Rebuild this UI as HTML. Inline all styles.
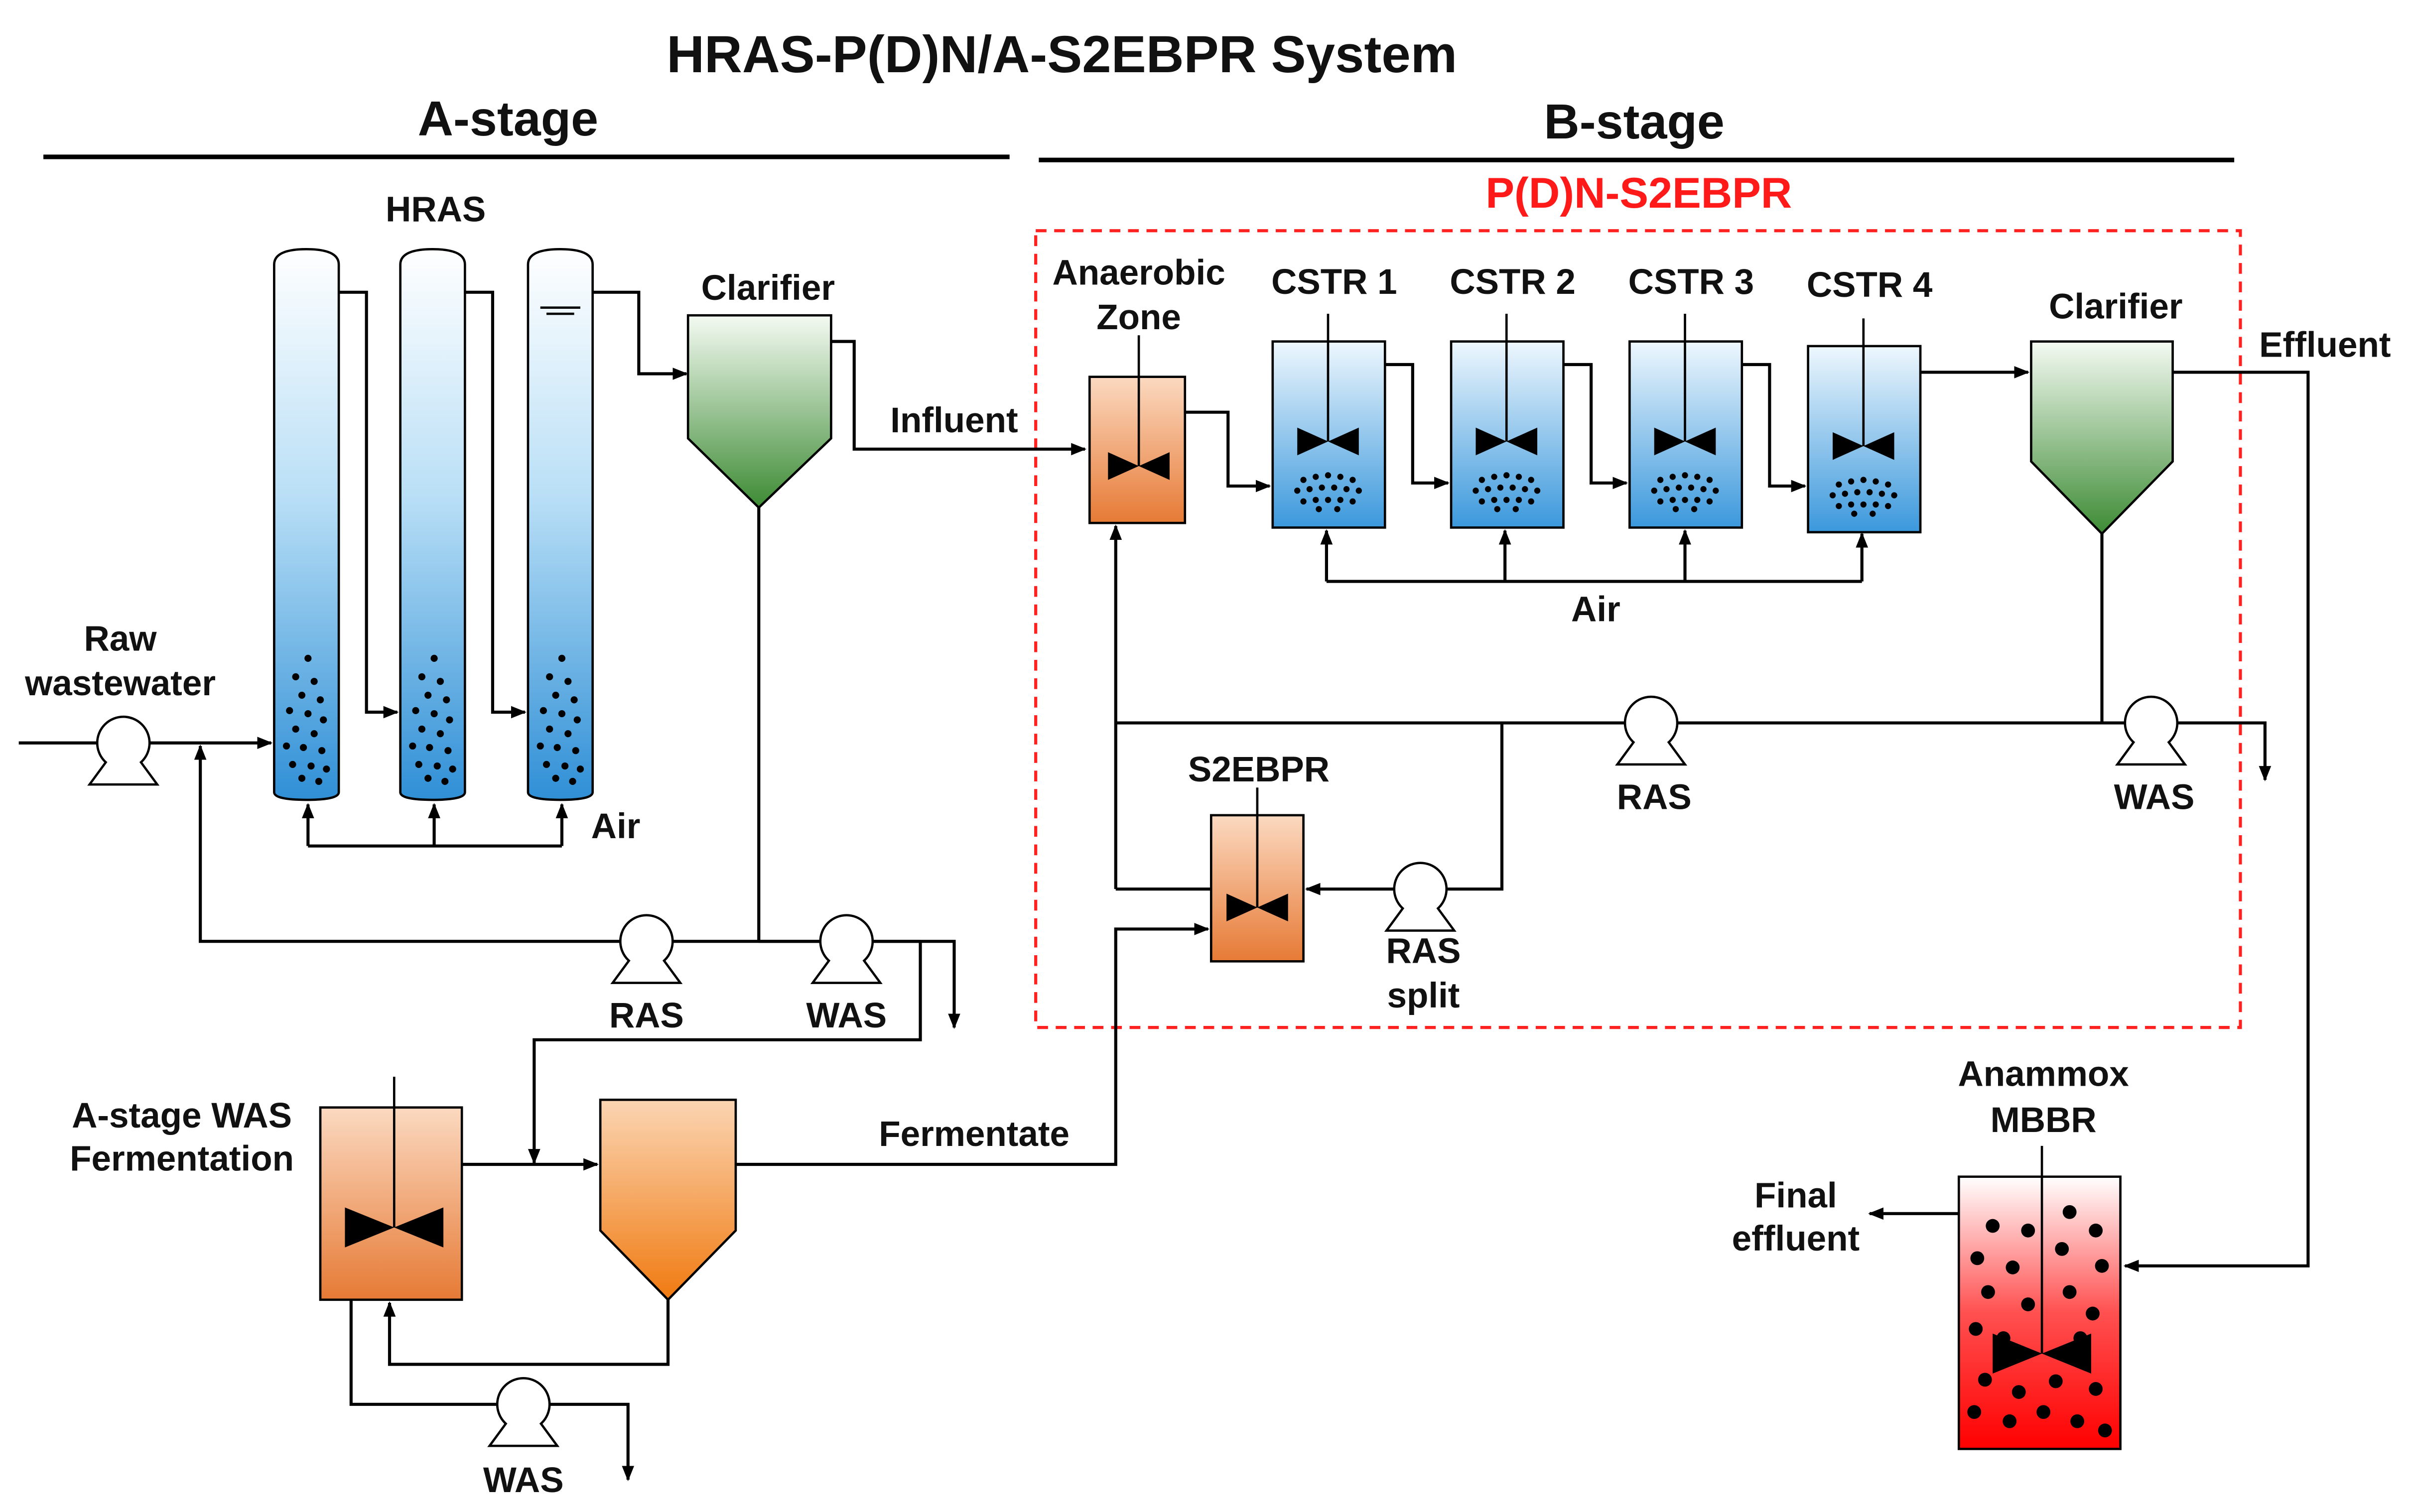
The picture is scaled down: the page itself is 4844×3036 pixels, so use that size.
<!DOCTYPE html>
<html><head><meta charset="utf-8"><style>
html,body{margin:0;padding:0;background:#fff}
svg{display:block}
text{font-family:"Liberation Sans",Arial,sans-serif;font-weight:bold;fill:#111;text-anchor:middle}
</style></head><body>
<svg width="4844" height="3036" viewBox="0 0 1568 983" xmlns="http://www.w3.org/2000/svg">
<defs>
<linearGradient id="blue" x1="0" y1="0" x2="0" y2="1"><stop offset="0" stop-color="#fff"/><stop offset="0.45" stop-color="#b9dff6"/><stop offset="1" stop-color="#2f8fd6"/></linearGradient>
<linearGradient id="blue2" x1="0" y1="0" x2="0" y2="1"><stop offset="0" stop-color="#eef7fd"/><stop offset="1" stop-color="#3b98dc"/></linearGradient>
<linearGradient id="green" x1="0" y1="0" x2="0" y2="1"><stop offset="0" stop-color="#f4faf2"/><stop offset="1" stop-color="#3d8b34"/></linearGradient>
<linearGradient id="orange" x1="0" y1="0" x2="0" y2="1"><stop offset="0" stop-color="#fbd9c0"/><stop offset="1" stop-color="#e67a35"/></linearGradient>
<linearGradient id="orange2" x1="0" y1="0" x2="0" y2="1"><stop offset="0" stop-color="#fbd5b3"/><stop offset="1" stop-color="#f07a10"/></linearGradient>
<linearGradient id="red" x1="0" y1="0" x2="0" y2="1"><stop offset="0" stop-color="#fff"/><stop offset="0.5" stop-color="#ff5050"/><stop offset="1" stop-color="#f00"/></linearGradient>
<marker id="ar" markerWidth="10" markerHeight="10" refX="9" refY="5" orient="auto" markerUnits="userSpaceOnUse"><path d="M0,1 L10,5 L0,9 Z" fill="#000"/></marker>
<g id="pump"><circle cx="0" cy="0" r="17" fill="#fff" stroke="#000" stroke-width="1.5"/><path d="M-11,12 L-22,27 L22,27 L11,12" fill="#fff" stroke="#000" stroke-width="1.5"/></g>
<g id="bow"><path d="M-20,-9 L20,9 L20,-9 L-20,9 Z" fill="#000"/></g>
<g id="bowL"><path d="M-32,-13 L32,13 L32,-13 L-32,13 Z" fill="#000"/></g>
<g id="col"><path d="M0,515 L0,172 Q0,162 21,162 Q42,162 42,172 L42,515 Q42,520 21,520 Q0,520 0,515 Z" fill="url(#blue)" stroke="#000" stroke-width="1.5"/>
<g fill="#000"><circle cx="22" cy="428" r="2.3"/><circle cx="14" cy="440" r="2.3"/><circle cx="26" cy="443" r="2.3"/><circle cx="18" cy="452" r="2.3"/><circle cx="30" cy="455" r="2.3"/><circle cx="10" cy="462" r="2.3"/><circle cx="22" cy="464" r="2.3"/><circle cx="32" cy="468" r="2.3"/><circle cx="14" cy="474" r="2.3"/><circle cx="26" cy="477" r="2.3"/><circle cx="8" cy="485" r="2.3"/><circle cx="19" cy="486" r="2.3"/><circle cx="31" cy="488" r="2.3"/><circle cx="12" cy="497" r="2.3"/><circle cx="24" cy="498" r="2.3"/><circle cx="34" cy="500" r="2.3"/><circle cx="18" cy="506" r="2.3"/><circle cx="29" cy="508" r="2.3"/></g></g>
<g id="cstr"><rect x="0" y="0" width="73" height="121" fill="url(#blue2)" stroke="#000" stroke-width="1.5"/><line x1="36" y1="-18" x2="36" y2="65" stroke="#000" stroke-width="1.5"/><use href="#bow" x="36" y="65"/>
<g fill="#000"><circle cx="20" cy="90" r="2"/><circle cx="28" cy="88" r="2"/><circle cx="36" cy="87" r="2"/><circle cx="44" cy="88" r="2"/><circle cx="52" cy="90" r="2"/><circle cx="16" cy="97" r="2"/><circle cx="24" cy="96" r="2"/><circle cx="32" cy="95" r="2"/><circle cx="40" cy="95" r="2"/><circle cx="48" cy="96" r="2"/><circle cx="56" cy="97" r="2"/><circle cx="20" cy="104" r="2"/><circle cx="28" cy="103" r="2"/><circle cx="36" cy="103" r="2"/><circle cx="44" cy="103" r="2"/><circle cx="52" cy="104" r="2"/><circle cx="30" cy="109" r="2"/><circle cx="42" cy="109" r="2"/></g></g>
</defs>
<g font-size="23">
<text x="690" y="47" font-size="34">HRAS-P(D)N/A-S2EBPR System</text>
<text x="330" y="88" font-size="32">A-stage</text>
<text x="1062" y="90" font-size="32">B-stage</text>
<line x1="28" y1="102" x2="656" y2="102" stroke="#000" stroke-width="3"/>
<line x1="675" y1="104" x2="1452" y2="104" stroke="#000" stroke-width="3"/>
<text x="1065" y="135" font-size="28" style="fill:#ff1a1a">P(D)N-S2EBPR</text>
<rect x="673" y="150" width="783" height="518" fill="none" stroke="#ff2020" stroke-width="2" stroke-dasharray="7,5"/>

<g stroke="#000" stroke-width="2" fill="none">
<polyline points="220,190 238,190 238,463 258,463" marker-end="url(#ar)"/>
<polyline points="302,190 320,190 320,463 341,463" marker-end="url(#ar)"/>
<polyline points="385,190 415,190 415,243 446,243" marker-end="url(#ar)"/>
<polyline points="200,550 365,550"/>
<line x1="200" y1="550" x2="200" y2="523" marker-end="url(#ar)"/>
<line x1="282" y1="550" x2="282" y2="523" marker-end="url(#ar)"/>
<line x1="365" y1="550" x2="365" y2="523" marker-end="url(#ar)"/>
<line x1="12" y1="483" x2="176" y2="483" marker-end="url(#ar)"/>
<polyline points="540,222 555,222 555,292 705,292" marker-end="url(#ar)"/>
<line x1="493" y1="330" x2="493" y2="612"/>
<polyline points="598,612 130,612 130,485" marker-end="url(#ar)"/>
<polyline points="493,612 620,612 620,668" marker-end="url(#ar)"/>
<polyline points="598,612 598,676 347,676 347,756" marker-end="url(#ar)"/>
<line x1="300" y1="757" x2="388" y2="757" marker-end="url(#ar)"/>
<polyline points="434,845 434,887 253,887 253,847" marker-end="url(#ar)"/>
<polyline points="228,845 228,913 408,913 408,962" marker-end="url(#ar)"/>
<polyline points="478,757 725,757 725,604 785,604" marker-end="url(#ar)"/>
<polyline points="770,268 798,268 798,316 825,316" marker-end="url(#ar)"/>
<polyline points="900,237 918,237 918,314 941,314" marker-end="url(#ar)"/>
<polyline points="1016,237 1034,237 1034,314 1057,314" marker-end="url(#ar)"/>
<polyline points="1132,237 1150,237 1150,316 1173,316" marker-end="url(#ar)"/>
<line x1="1248" y1="242" x2="1318" y2="242" marker-end="url(#ar)"/>
<line x1="862" y1="378" x2="1210" y2="378"/>
<line x1="862" y1="378" x2="862" y2="345" marker-end="url(#ar)"/>
<line x1="978" y1="378" x2="978" y2="345" marker-end="url(#ar)"/>
<line x1="1095" y1="378" x2="1095" y2="345" marker-end="url(#ar)"/>
<line x1="1210" y1="378" x2="1210" y2="347" marker-end="url(#ar)"/>
<polyline points="1412,242 1500,242 1500,823 1381,823" marker-end="url(#ar)"/>
<line x1="1366" y1="347" x2="1366" y2="470"/>
<polyline points="725,470 1472,470 1472,507" marker-end="url(#ar)"/>
<line x1="725" y1="578" x2="725" y2="342" marker-end="url(#ar)"/>
<line x1="725" y1="578" x2="787" y2="578"/>
<polyline points="976,470 976,578 849,578" marker-end="url(#ar)"/>
<line x1="1273" y1="789" x2="1215" y2="789" marker-end="url(#ar)"/>
</g>

<use href="#col" x="178"/><use href="#col" x="260"/><use href="#col" x="343"/>
<line x1="351" y1="200" x2="377" y2="200" stroke="#000" stroke-width="1.5"/>
<line x1="355" y1="204" x2="373" y2="204" stroke="#000" stroke-width="1.5"/>
<text x="283" y="144">HRAS</text>
<text x="400" y="545">Air</text>
<text x="78" y="423">Raw</text>
<text x="78" y="452">wastewater</text>
<use href="#pump" x="80" y="483"/>

<path d="M447,205 L540,205 L540,285 L493,330 L447,285 Z" fill="url(#green)" stroke="#000" stroke-width="1.5"/>
<text x="499" y="195">Clarifier</text>
<text x="620" y="281">Influent</text>
<use href="#pump" x="420" y="612"/><use href="#pump" x="550" y="612"/>
<text x="420" y="668">RAS</text>
<text x="550" y="668">WAS</text>

<text x="118" y="733">A-stage WAS</text>
<text x="118" y="761">Fermentation</text>
<rect x="208" y="720" width="92" height="125" fill="url(#orange)" stroke="#000" stroke-width="1.5"/>
<line x1="256" y1="700" x2="256" y2="798" stroke="#000" stroke-width="1.5"/>
<use href="#bowL" x="256" y="798"/>
<path d="M390,715 L478,715 L478,800 L434,845 L390,800 Z" fill="url(#orange2)" stroke="#000" stroke-width="1.5"/>
<use href="#pump" x="340" y="913"/>
<text x="340" y="970">WAS</text>
<text x="633" y="745">Fermentate</text>

<text x="740" y="185">Anaerobic</text>
<text x="740" y="214">Zone</text>
<rect x="708" y="245" width="62" height="95" fill="url(#orange)" stroke="#000" stroke-width="1.5"/>
<line x1="740" y1="218" x2="740" y2="303" stroke="#000" stroke-width="1.5"/>
<use href="#bow" x="740" y="303"/>

<use href="#cstr" x="827" y="222"/><use href="#cstr" x="943" y="222"/><use href="#cstr" x="1059" y="222"/><use href="#cstr" x="1175" y="225"/>
<text x="867" y="191">CSTR 1</text>
<text x="983" y="191">CSTR 2</text>
<text x="1099" y="191">CSTR 3</text>
<text x="1215" y="193">CSTR 4</text>
<text x="1037" y="404">Air</text>

<path d="M1320,222 L1412,222 L1412,300 L1366,347 L1320,300 Z" fill="url(#green)" stroke="#000" stroke-width="1.5"/>
<text x="1375" y="207">Clarifier</text>
<text x="1511" y="232">Effluent</text>
<use href="#pump" x="1073" y="470"/><use href="#pump" x="1398" y="470"/>
<text x="1075" y="526">RAS</text>
<text x="1400" y="526">WAS</text>

<text x="818" y="508">S2EBPR</text>
<rect x="787" y="530" width="60" height="95" fill="url(#orange)" stroke="#000" stroke-width="1.5"/>
<line x1="817" y1="512" x2="817" y2="590" stroke="#000" stroke-width="1.5"/>
<use href="#bow" x="817" y="590"/>
<use href="#pump" x="923" y="578"/>
<text x="925" y="626">RAS</text>
<text x="925" y="655">split</text>

<text x="1328" y="706">Anammox</text>
<text x="1328" y="736">MBBR</text>
<text x="1167" y="785">Final</text>
<text x="1167" y="813">effluent</text>
<rect x="1273" y="765" width="105" height="177" fill="url(#red)" stroke="#000" stroke-width="1.5"/>
<line x1="1327" y1="745" x2="1327" y2="880" stroke="#000" stroke-width="1.5"/>
<use href="#bowL" x="1327" y="880"/>
<g fill="#000"><circle cx="1295" cy="797" r="4.5"/><circle cx="1318" cy="800" r="4.5"/><circle cx="1345" cy="788" r="4.5"/><circle cx="1362" cy="800" r="4.5"/><circle cx="1285" cy="818" r="4.5"/><circle cx="1308" cy="824" r="4.5"/><circle cx="1340" cy="812" r="4.5"/><circle cx="1366" cy="823" r="4.5"/><circle cx="1292" cy="840" r="4.5"/><circle cx="1318" cy="848" r="4.5"/><circle cx="1345" cy="840" r="4.5"/><circle cx="1360" cy="854" r="4.5"/><circle cx="1284" cy="864" r="4.5"/><circle cx="1302" cy="870" r="4.5"/><circle cx="1352" cy="870" r="4.5"/><circle cx="1290" cy="897" r="4.5"/><circle cx="1312" cy="905" r="4.5"/><circle cx="1336" cy="898" r="4.5"/><circle cx="1362" cy="903" r="4.5"/><circle cx="1283" cy="918" r="4.5"/><circle cx="1306" cy="924" r="4.5"/><circle cx="1328" cy="918" r="4.5"/><circle cx="1350" cy="924" r="4.5"/><circle cx="1368" cy="930" r="4.5"/></g>
</g>
</svg>
</body></html>
